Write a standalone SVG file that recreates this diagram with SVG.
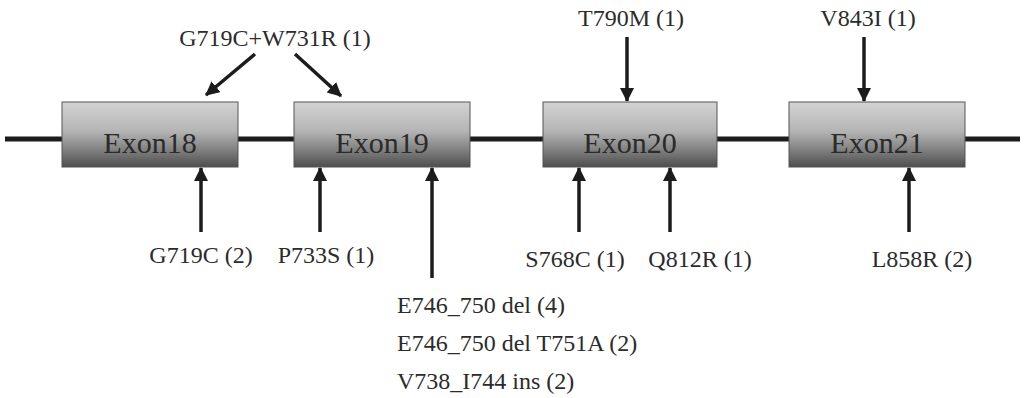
<svg xmlns="http://www.w3.org/2000/svg" width="1025" height="398" viewBox="0 0 1025 398" font-family="Liberation Serif, Times New Roman, serif">
<style>
.t{font-size:24px;fill:#2b2b2b}
.ex{font-size:30px;fill:#2a2a2a;text-anchor:middle}
.box{fill:url(#g);stroke:#555;stroke-width:1}
.c{stroke:#1c1c1c;stroke-width:3.5;fill:none;marker-end:url(#ah)}
</style>
<defs>
<linearGradient id="g" x1="0" y1="0" x2="0" y2="1">
<stop offset="0" stop-color="#d4d4d4"/>
<stop offset="0.45" stop-color="#b4b4b4"/>
<stop offset="0.75" stop-color="#7e7e7e"/>
<stop offset="1" stop-color="#4e4e4e"/>
</linearGradient>
<marker id="ah" markerUnits="userSpaceOnUse" markerWidth="14" markerHeight="16" refX="13" refY="7" orient="auto">
<path d="M0,0 L14,7 L0,14 Z" fill="#1c1c1c"/>
</marker>
</defs>
<line x1="5" y1="139" x2="1020" y2="139" stroke="#1c1c1c" stroke-width="5"/>
<g id="exon18"><rect class="box" x="62" y="102" width="176" height="65"/><text class="ex" x="150" y="153">Exon18</text></g>
<g id="exon19"><rect class="box" x="294" y="102" width="176" height="65"/><text class="ex" x="382" y="153">Exon19</text></g>
<g id="exon20"><rect class="box" x="543" y="102" width="174" height="65"/><text class="ex" x="630" y="153">Exon20</text></g>
<g id="exon21"><rect class="box" x="789" y="102" width="176" height="65"/><text class="ex" x="877" y="153">Exon21</text></g>
<g id="connectors">
<line class="c" x1="255" y1="54" x2="206" y2="95"/>
<line class="c" x1="295" y1="54" x2="341" y2="96"/>
<line class="c" x1="627" y1="37" x2="627" y2="101"/>
<line class="c" x1="864" y1="37" x2="864" y2="101"/>
<line class="c" x1="201" y1="232" x2="201" y2="168"/>
<line class="c" x1="320" y1="232" x2="320" y2="168"/>
<line class="c" x1="432" y1="278" x2="432" y2="168"/>
<line class="c" x1="579" y1="232" x2="579" y2="168"/>
<line class="c" x1="670" y1="232" x2="670" y2="168"/>
<line class="c" x1="909" y1="232" x2="909" y2="168"/>
</g>
<g id="labels">
<text class="t" x="275" y="46" text-anchor="middle">G719C+W731R (1)</text>
<text class="t" x="631" y="26" text-anchor="middle">T790M (1)</text>
<text class="t" x="868" y="26" text-anchor="middle">V843I (1)</text>
<text class="t" x="201" y="263" text-anchor="middle">G719C (2)</text>
<text class="t" x="326" y="263" text-anchor="middle">P733S (1)</text>
<text class="t" x="575" y="267" text-anchor="middle">S768C (1)</text>
<text class="t" x="700" y="267" text-anchor="middle">Q812R (1)</text>
<text class="t" x="922" y="267" text-anchor="middle">L858R (2)</text>
<text class="t" x="397" y="313">E746_750 del (4)</text>
<text class="t" x="397" y="351">E746_750 del T751A (2)</text>
<text class="t" x="397" y="389">V738_I744 ins (2)</text>
</g>
</svg>
